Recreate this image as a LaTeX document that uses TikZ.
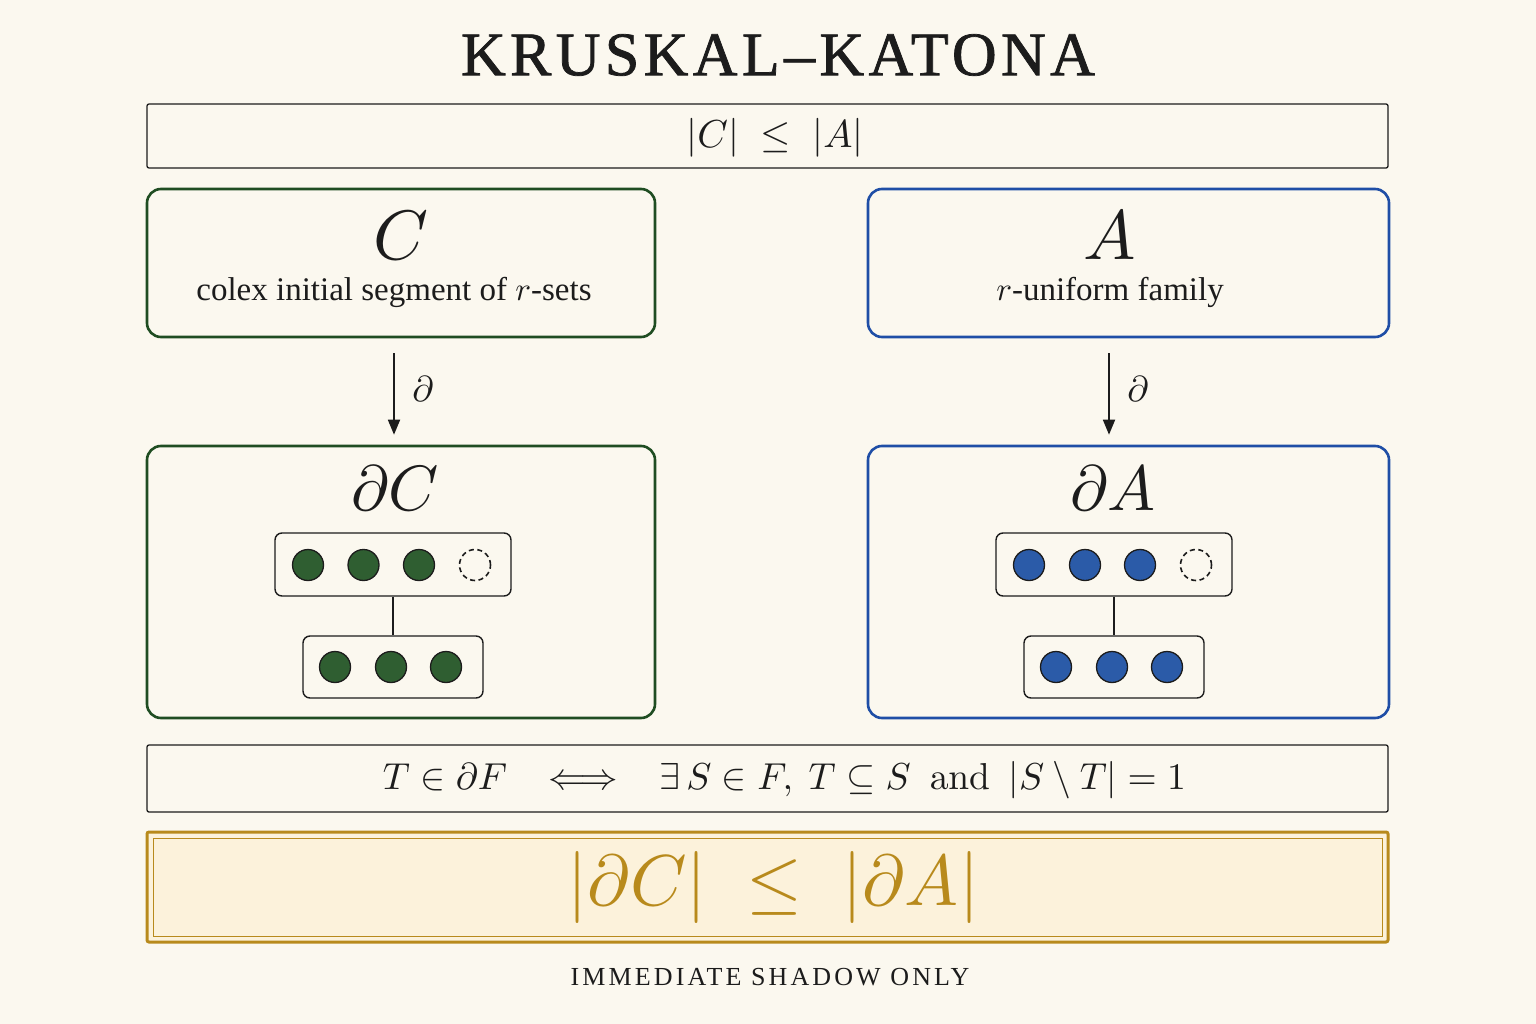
\documentclass[tikz,border=0pt]{standalone}
\usepackage{amsmath}
\usepackage[no-math]{fontspec}
\setmainfont{Liberation Serif}
\usetikzlibrary{arrows.meta}
\definecolor{bg}{HTML}{FBF8EF}
\definecolor{ink}{HTML}{1C1C1C}
\definecolor{grn}{HTML}{1F4D22}
\definecolor{grnfill}{HTML}{2F5E31}
\definecolor{blu}{HTML}{1F4EA6}
\definecolor{blufill}{HTML}{2B5BA8}
\definecolor{gold}{HTML}{B88A1C}
\definecolor{goldfill}{HTML}{FCF2DB}
\begin{document}
\begin{tikzpicture}[x=1pt,y=-1pt,
  txt/.style={text=ink,font=\fontsize{10}{12}\selectfont,inner sep=0pt,scale=#1},
  plainbox/.style={draw=ink,line width=1.3pt,rounded corners=2pt,minimum width=1241pt,inner sep=0pt},
  gbox/.style={draw=grn,line width=2.6pt,rounded corners=14pt,inner sep=0pt},
  bbox/.style={draw=blu,line width=2.6pt,rounded corners=14pt,inner sep=0pt},
  setbox/.style={draw=ink,line width=1.4pt,rounded corners=7pt,inner sep=0pt,fill=bg},
  gdot/.style={circle,draw=ink,line width=1.3pt,fill=grnfill,minimum size=31pt,inner sep=0pt},
  bdot/.style={circle,draw=ink,line width=1.3pt,fill=blufill,minimum size=31pt,inner sep=0pt},
  edot/.style={circle,draw=ink,line width=1.6pt,dash pattern=on 5pt off 3.5pt,minimum size=31pt,inner sep=0pt},
  arr/.style={draw=ink,line width=1.8pt,-{Triangle[length=15pt,width=12pt]}},
  link/.style={draw=ink,line width=1.4pt}]
\useasboundingbox[fill=bg] (0,0) rectangle (1536,1024);
% title
\node[text=ink,font=\fontsize{62}{62}\selectfont\addfontfeatures{LetterSpace=7,FakeBold=1.2}] (title) at (778,55) {KRUSKAL–KATONA};
% top box
\node[plainbox,minimum height=64pt] (top) at (767.5,136) {};
\node[txt=3.9] (toptxt) at (775,138) {$|C|\;\le\;|A|$};
% upper family boxes
\node[gbox,minimum width=508pt,minimum height=148pt] (Cbox) at (401,263) {};
\node[bbox,minimum width=521pt,minimum height=148pt] (Abox) at (1128.5,263) {};
\node[txt=7] (Clab) at (401,236) {$C$};
\node[txt=3.3] (Csub) at (394,292) {colex initial segment of $r$-sets};
\node[txt=7] (Alab) at (1110,236) {$A$};
\node[txt=3.3] (Asub) at (1110,292) {$r$-uniform family};
% lower shadow boxes
\node[gbox,minimum width=508pt,minimum height=272pt] (dCbox) at (401,582) {};
\node[bbox,minimum width=521pt,minimum height=272pt] (dAbox) at (1128.5,582) {};
\node[txt=6.4] (dClab) at (395,488) {$\partial C$};
\node[txt=6.4] (dAlab) at (1113,488) {$\partial A$};
% arrows
\draw[arr] ([xshift=-7pt,yshift=-15pt]Cbox.south) -- ([xshift=-7pt,yshift=10pt]dCbox.north);
\node[txt=3.6] (dl) at (423,389) {$\partial$};
\draw[arr] ([xshift=-19.5pt,yshift=-15pt]Abox.south) -- ([xshift=-19.5pt,yshift=10pt]dAbox.north);
\node[txt=3.6] (dr) at (1138,389) {$\partial$};
% left set diagram
\node[setbox,minimum width=236pt,minimum height=63pt] (lu) at (393,564.5) {};
\node[setbox,minimum width=180pt,minimum height=62pt] (ll) at (393,667) {};
\draw[link] (lu.south) -- (ll.north);
\node[gdot] (lu1) at (308,565) {};
\node[gdot] (lu2) at (363.5,565) {};
\node[gdot] (lu3) at (419,565) {};
\node[edot] (lu4) at (475,565) {};
\node[gdot] (ll1) at (335,667) {};
\node[gdot] (ll2) at (391,667) {};
\node[gdot] (ll3) at (446,667) {};
% right set diagram
\node[setbox,minimum width=236pt,minimum height=63pt] (ru) at (1114,564.5) {};
\node[setbox,minimum width=180pt,minimum height=62pt] (rl) at (1114,667) {};
\draw[link] (ru.south) -- (rl.north);
\node[bdot] (ru1) at (1029,565) {};
\node[bdot] (ru2) at (1085,565) {};
\node[bdot] (ru3) at (1140,565) {};
\node[edot] (ru4) at (1196,565) {};
\node[bdot] (rl1) at (1056,667) {};
\node[bdot] (rl2) at (1112,667) {};
\node[bdot] (rl3) at (1167,667) {};
% definition box
\node[plainbox,minimum height=67pt] (def) at (767.5,778.5) {};
\node[txt=3.75] (deftxt) at (784.5,780) {$T\in\partial F\;\;\iff\;\;\exists\, S\in F,\ T\subseteq S\ \ \mathrm{and}\ \ |S\setminus T|=1$};
% result box
\node[draw=gold,line width=3pt,fill=goldfill,minimum width=1241pt,minimum height=110pt,inner sep=0pt,rounded corners=2pt] (res) at (767.5,887) {};
\node[draw=gold,line width=1pt,minimum width=1229pt,minimum height=98pt,inner sep=0pt] (resin) at (767.5,887) {};
\node[txt=7.2,text=gold] (restxt) at (773.5,887) {$|\partial C|\;\le\;|\partial A|$};
% footer
\node[text=ink,font=\fontsize{26}{26}\selectfont\addfontfeatures{LetterSpace=12}] (foot) at (770,977) {IMMEDIATE SHADOW ONLY};
\end{tikzpicture}
\end{document}
